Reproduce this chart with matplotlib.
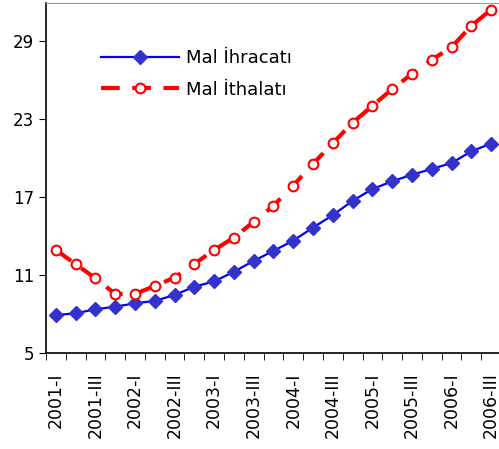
import numpy as np
import matplotlib.pyplot as plt
from matplotlib.ticker import FixedLocator, NullFormatter

# quarters 2001-I .. 2006-III
years = [2001, 2002, 2003, 2004, 2005, 2006]
quarters = ["I", "II", "III", "IV"]
periods = [f"{y}-{q}" for y in years for q in quarters][:23]

ihracat = [7.92, 8.05, 8.36, 8.56, 8.82, 9.0, 9.46, 10.1, 10.5, 11.25, 12.08, 12.85,
           13.64, 14.64, 15.6, 16.7, 17.6, 18.2, 18.7, 19.15, 19.6, 20.5, 21.1]
ithalat = [12.92, 11.82, 10.74, 9.54, 9.54, 10.15, 10.8, 11.85, 12.92, 13.87, 15.08, 16.32,
           17.87, 19.54, 21.13, 22.7, 24.0, 25.28, 26.46, 27.54, 28.5, 30.15, 31.38]

yticks = [5, 11, 17, 23, 29]

plt.rcParams['font.family'] = ['DejaVu Sans']

fig = plt.figure(figsize=(4.99, 4.49), dpi=100)
ax = fig.add_axes([46/499, 1 - 353/449, 455/499, 350/449])

x = np.arange(len(periods))
ax.plot(x, ihracat, color='#0000ff', lw=1.6, marker='D', ms=7.5,
        mfc='#3333cc', mec='#3333cc', label='Mal İhracatı')
ax.plot(x, ithalat, color='#ff0000', lw=3, ls=(0, (4.5, 3)), marker='o', ms=7,
        mfc='white', mec='#ff0000', mew=1.5, label='Mal İthalatı')

ax.set_xlim(-0.5, len(periods) - 0.5)
ax.set_ylim(5, 31.9)
ax.set_yticks(yticks)
ax.set_yticklabels([str(v) for v in yticks], fontsize=12)

ax.set_xticks(x[::2])
ax.set_xticklabels(periods[::2], rotation=90, fontsize=12.5)
ax.tick_params(axis='x', which='major', length=0, pad=14)
ax.xaxis.set_minor_locator(FixedLocator(np.arange(-0.5, len(periods), 1)))
ax.xaxis.set_minor_formatter(NullFormatter())
ax.tick_params(axis='x', which='minor', length=5, direction='out', color='black')
ax.tick_params(axis='y', length=5, direction='out', color='black')

for s in ['left', 'bottom']:
    ax.spines[s].set_color('black')
    ax.spines[s].set_linewidth(1.2)
ax.spines['top'].set_color('#999999')
ax.spines['right'].set_visible(False)

ax.legend(loc='upper left', bbox_to_anchor=(0.085, 0.915), frameon=False,
          fontsize=13, handlelength=4.3, labelspacing=0.75, handletextpad=0.4)

fig.savefig('out.png', dpi=100)
